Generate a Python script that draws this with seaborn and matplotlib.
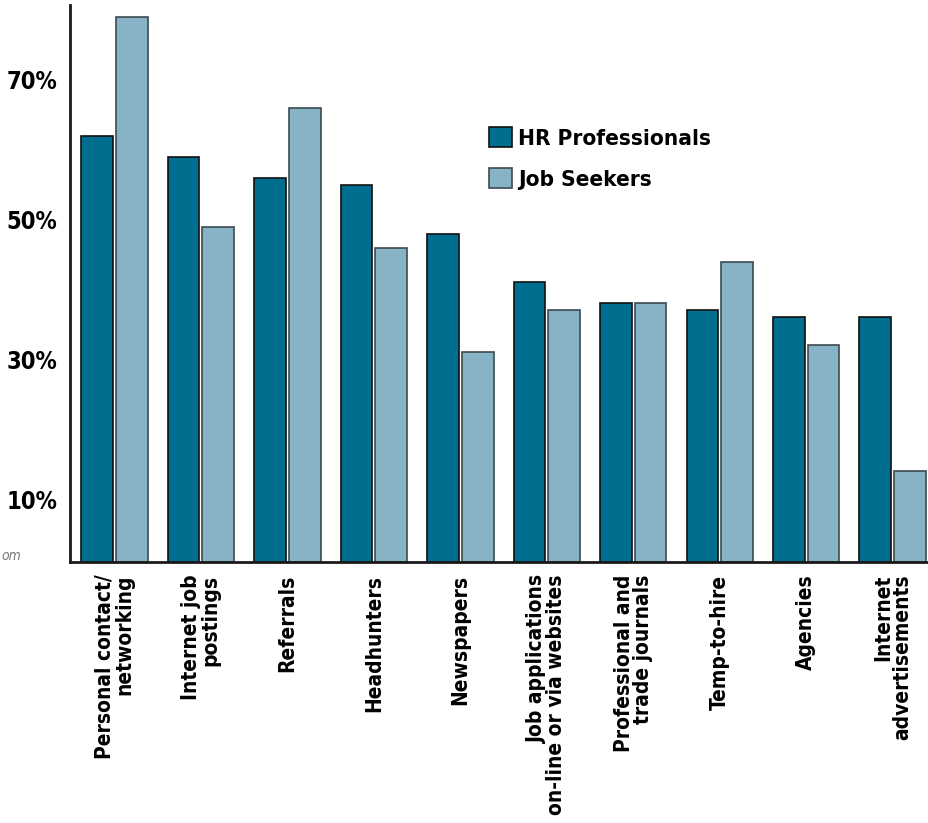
import numpy as np
import pandas as pd
import matplotlib
matplotlib.use("Agg")
import matplotlib.pyplot as plt
import matplotlib.transforms as mtransforms
import seaborn as sns

# data
categories = ["Personal contact/\nnetworking", "Internet job\npostings", "Referrals",
              "Headhunters", "Newspapers", "Job applications\non-line or via websites",
              "Professional and\ntrade journals", "Temp-to-hire", "Agencies",
              "Internet\nadvertisements"]
hr_values = [61, 58, 55, 54, 47, 40, 37, 36, 35, 35]
seeker_values = [78, 48, 65, 45, 30, 36, 37, 43, 31, 13]
series = ["HR Professionals", "Job Seekers"]
ytick_vals = [10, 30, 50, 70]
ytick_labels = ["10%", "30%", "50%", "70%"]

df = pd.DataFrame({
    "category": categories * 2,
    "group": [series[0]] * len(categories) + [series[1]] * len(categories),
    "value": hr_values + seeker_values,
})

sns.set_style("white")
plt.rcParams["font.family"] = ["DejaVu Sans"]
plt.rcParams["font.stretch"] = "condensed"
plt.rcParams["font.weight"] = "bold"
plt.rcParams["text.color"] = "black"
plt.rcParams["xtick.color"] = "black"
plt.rcParams["ytick.color"] = "black"

fig = plt.figure(figsize=(9.29, 8.23), dpi=100)
ax = fig.add_axes([0.0753, 0.317, 0.9247, 0.677])

palette = {"HR Professionals": "#006E8F", "Job Seekers": "#86B3C6"}
edges = ["#111111", "#3c4a50"]
sns.barplot(data=df, x="category", y="value", hue="group", palette=palette,
            width=0.8, gap=0.08, saturation=1, ax=ax, errorbar=None)

# edges: dark bars black, light bars dark grey
for container, ec in zip(ax.containers, edges):
    for bar in container:
        bar.set_edgecolor(ec)
        bar.set_linewidth(1.2)

ax.set_xlim(-0.514, 9.42)
ax.set_ylim(0, 79.7)
ax.set_xlabel("")
ax.set_ylabel("")

for side in ["top", "right"]:
    ax.spines[side].set_visible(False)
for side in ["left", "bottom"]:
    ax.spines[side].set_linewidth(2)
    ax.spines[side].set_color("#1a1a1a")

ax.set_axisbelow(True)
ax.set_yticks(ytick_vals)
ax.set_yticklabels(ytick_labels, fontsize=17, fontweight="bold", stretch="condensed")
ax.tick_params(axis="y", direction="in", length=16, width=1.5, color="#1a1a1a", pad=9)
# labels sit a little below their tick marks
offset = mtransforms.ScaledTranslation(0, -7 / 100, fig.dpi_scale_trans)
for lab in ax.get_yticklabels():
    lab.set_transform(lab.get_transform() + offset)

ax.tick_params(axis="x", length=0, pad=9)
for lab in ax.get_xticklabels():
    lab.set_rotation(90)
    lab.set_fontsize(15)
    lab.set_fontweight("bold")
    lab.set_fontstretch("condensed")
    lab.set_ha("center")
    lab.set_va("top")
    lab.set_multialignment("right")
    lab.set_linespacing(0.95)

leg = ax.legend(loc="upper left", bbox_to_anchor=(0.488, 0.781), frameon=False,
                fontsize=16.2, handlelength=1.0, handleheight=1.0,
                handletextpad=0.3, labelspacing=0.85, borderpad=0, borderaxespad=0)
for t in leg.get_texts():
    t.set_fontweight("bold")
    t.set_fontstretch("condensed")
for h, ec in zip(leg.legend_handles, edges):
    h.set_edgecolor(ec)
    h.set_linewidth(1.2)

# source note remnant at the far left
fig.text(0.001, (823 - 556) / 823, "om", fontsize=10, style="italic",
         color="#777777", fontweight="normal", ha="left", va="center")

fig.savefig("out.png", dpi=100)
